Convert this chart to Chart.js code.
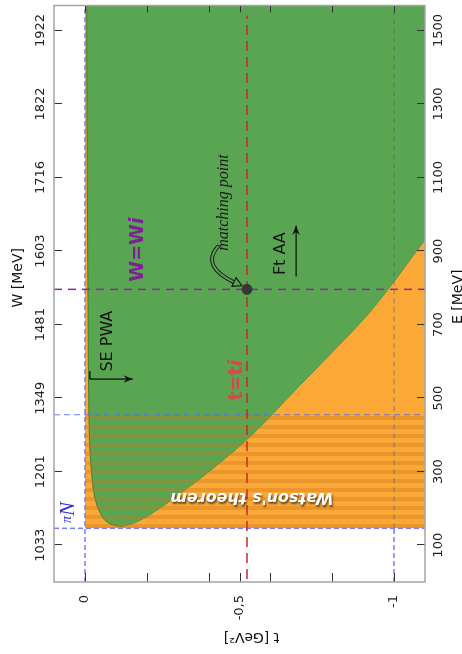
<!DOCTYPE html>
<html>
<head>
<meta charset="utf-8">
<script src="https://cdn.jsdelivr.net/npm/chart.js@4.4.1/dist/chart.umd.min.js"></script>
<style>
  html, body { margin: 0; padding: 0; background: #fff; overflow: hidden; }
  #wrap { position: relative; width: 462px; height: 654px; }
  /* the figure is drawn landscape and turned a quarter turn to the left */
  #chart { position: absolute; left: 0; top: 0; transform-origin: 0 0; transform: translate(0, 654px) rotate(-90deg); }
</style>
</head>
<body>
<div id="wrap"><canvas id="chart" width="654" height="462"></canvas></div>
<script>
// axes
const eTicks = [100, 300, 500, 700, 900, 1100, 1300, 1500];
const wLabels = ['1033', '1201', '1349', '1481', '1603', '1716', '1822', '1922'];
const tTicks = [0, -0.2, -0.4, -0.5, -0.6, -0.8, -1];
const tLabelValues = [0, -0.5, -1];
const tLabelText = ['0', '-0,5', '-1'];
const eRange = [0, 1568];
const tRange = [-1.1, 0.1];

// boundary of the physical region (E in MeV, t in GeV^2)
const upperE = [151, 154, 162, 189, 230, 284, 365, 457, 763, 1500, 1568];
const upperT = [-0.120, -0.097, -0.074, -0.049, -0.032, -0.023, -0.016, -0.013, -0.010, -0.006, -0.006];
const lowerE = [151, 157, 168, 187, 211, 241, 281, 325, 371, 422, 536, 628, 726, 807, 931, 1200, 1568];
const lowerT = [-0.120, -0.146, -0.178, -0.217, -0.259, -0.307, -0.372, -0.437, -0.502, -0.566, -0.696, -0.803, -0.913, -0.990, -1.100, -1.36, -1.70];

// special lines
const eThreshold = 146;   // pi N threshold
const eWatson = 455;      // upper end of Watson's theorem band
const eMatch = 796;       // W = W_i
const tMatch = -0.524;    // t = t_i
const redLineE = [8, 1540];

const ORANGE = '#fca836';
const GREEN = '#5aa552';

const canvas = document.getElementById('chart');
const ctx0 = canvas.getContext('2d');

const stripe = document.createElement('canvas');
stripe.width = 9; stripe.height = 2;
const sctx = stripe.getContext('2d');
sctx.fillStyle = 'rgba(200,118,30,0.36)';
sctx.fillRect(0, 0, 4, 2);
const stripePattern = ctx0.createPattern(stripe, 'repeat');

const pts = (xs, ys) => xs.map((x, i) => ({x: x, y: ys[i]}));

function vLine(e, color, dash, width, order, t0, t1) {
  return {data: [{x: e, y: t0 ?? tRange[1]}, {x: e, y: t1 ?? tRange[0]}],
    borderColor: color, borderDash: dash, borderWidth: width, fill: false, order: order};
}
function hLine(t, color, dash, width, order, e0, e1) {
  return {data: [{x: e0 ?? eRange[0], y: t}, {x: e1 ?? eRange[1], y: t}],
    borderColor: color, borderDash: dash, borderWidth: width, fill: false, order: order};
}

function arrow(ctx, x1, y1, x2, y2, head) {
  ctx.beginPath(); ctx.moveTo(x1, y1); ctx.lineTo(x2, y2); ctx.stroke();
  const a = Math.atan2(y2 - y1, x2 - x1);
  ctx.beginPath();
  ctx.moveTo(x2, y2);
  ctx.lineTo(x2 - head * Math.cos(a - 0.38), y2 - head * Math.sin(a - 0.38));
  ctx.lineTo(x2 - head * 0.6 * Math.cos(a), y2 - head * 0.6 * Math.sin(a));
  ctx.lineTo(x2 - head * Math.cos(a + 0.38), y2 - head * Math.sin(a + 0.38));
  ctx.closePath(); ctx.fill();
}

const notes = {
  id: 'notes',
  afterDatasetsDraw(chart) {
    const {ctx, chartArea: a, scales} = chart;
    const X = e => scales.x.getPixelForValue(e);
    const Y = t => scales.y.getPixelForValue(t);
    ctx.save();

    // inward tick marks
    ctx.strokeStyle = '#333'; ctx.lineWidth = 1;
    ctx.beginPath();
    eTicks.forEach(e => {
      const x = Math.round(X(e)) + 0.5;
      ctx.moveTo(x, a.top); ctx.lineTo(x, a.top + 8);
      ctx.moveTo(x, a.bottom); ctx.lineTo(x, a.bottom - 8);
    });
    tTicks.forEach(t => {
      const y = Math.round(Y(t)) + 0.5;
      ctx.moveTo(a.left, y); ctx.lineTo(a.left + 9, y);
      ctx.moveTo(a.right, y); ctx.lineTo(a.right - 7, y);
    });
    ctx.stroke();

    // frame
    ctx.strokeStyle = '#a5a5a5'; ctx.lineWidth = 1.5;
    ctx.strokeRect(a.left, a.top, a.right - a.left, a.bottom - a.top);

    ctx.textAlign = 'center'; ctx.textBaseline = 'middle';

    // SE PWA
    ctx.fillStyle = '#111'; ctx.strokeStyle = '#111'; ctx.lineWidth = 1.3;
    ctx.font = '16px "DejaVu Sans"';
    ctx.fillText('SE PWA', X(655), Y(-0.074));
    arrow(ctx, X(552), Y(-0.016), X(552), Y(-0.155), 10);
    ctx.beginPath(); ctx.moveTo(X(552), Y(-0.016)); ctx.lineTo(X(574), Y(-0.016)); ctx.stroke();

    // Ft AA
    ctx.fillText('Ft AA', X(893), Y(-0.634));
    arrow(ctx, X(831), Y(-0.683), X(969), Y(-0.683), 10);

    // W = W_i
    ctx.fillStyle = '#7d2196';
    ctx.font = 'bold 19px "DejaVu Sans"';
    let w1 = ctx.measureText('W=W').width;
    ctx.font = 'bold italic 19px "DejaVu Sans"';
    let w2 = ctx.measureText('i').width;
    let x0 = X(904) - (w1 + w2) / 2;
    ctx.textAlign = 'left';
    ctx.font = 'bold 19px "DejaVu Sans"';
    ctx.fillText('W=W', x0, Y(-0.172));
    ctx.font = 'bold italic 19px "DejaVu Sans"';
    ctx.fillText('i', x0 + w1, Y(-0.172));

    // t = t_i
    ctx.fillStyle = '#d9474a';
    ctx.font = 'bold 19px "DejaVu Sans"';
    w1 = ctx.measureText('t=t').width;
    ctx.font = 'bold italic 19px "DejaVu Sans"';
    w2 = ctx.measureText('i').width;
    x0 = X(549) - (w1 + w2) / 2;
    ctx.font = 'bold 19px "DejaVu Sans"';
    ctx.fillText('t=t', x0, Y(-0.492));
    ctx.font = 'bold italic 19px "DejaVu Sans"';
    ctx.fillText('i', x0 + w1, Y(-0.492));

    // matching point label and its curved arrow
    ctx.textAlign = 'center';
    ctx.fillStyle = '#1a1a1a';
    ctx.font = 'italic 16px "Liberation Serif"';
    ctx.fillText('matching point', X(1032), Y(-0.450));
    const sx = X(912), sy = Y(-0.430), cx = X(858), cy = Y(-0.372), ex = X(812), ey = Y(-0.490);
    ctx.lineCap = 'round';
    ctx.strokeStyle = '#1a1a1a'; ctx.lineWidth = 4;
    ctx.beginPath(); ctx.moveTo(sx, sy); ctx.quadraticCurveTo(cx, cy, ex, ey); ctx.stroke();
    ctx.strokeStyle = GREEN; ctx.lineWidth = 2;
    ctx.beginPath(); ctx.moveTo(sx, sy); ctx.quadraticCurveTo(cx, cy, ex, ey); ctx.stroke();
    const ang = Math.atan2(ey - cy, ex - cx);
    const tx = X(806), ty = Y(-0.508);
    ctx.beginPath();
    ctx.moveTo(tx, ty);
    ctx.lineTo(tx - 10 * Math.cos(ang - 0.5), ty - 10 * Math.sin(ang - 0.5));
    ctx.lineTo(tx - 10 * Math.cos(ang + 0.5), ty - 10 * Math.sin(ang + 0.5));
    ctx.closePath();
    ctx.fillStyle = GREEN; ctx.fill();
    ctx.strokeStyle = '#1a1a1a'; ctx.lineWidth = 1.2; ctx.stroke();

    // pi N
    ctx.fillStyle = '#2b2bd9';
    ctx.textAlign = 'left'; ctx.textBaseline = 'alphabetic';
    ctx.font = 'italic 14px "Liberation Serif"';
    w1 = ctx.measureText('\u03c0').width;
    ctx.font = 'italic 21px "Liberation Serif"';
    w2 = ctx.measureText('N').width;
    x0 = X(189) - (w1 + w2) / 2;
    ctx.font = 'italic 14px "Liberation Serif"';
    ctx.fillText('\u03c0', x0, Y(0.058) + 4);
    ctx.font = 'italic 21px "Liberation Serif"';
    ctx.fillText('N', x0 + w1, Y(0.058) + 7);

    // Watson's theorem
    ctx.save();
    ctx.translate(X(230), Y(-0.540));
    ctx.rotate(-Math.PI / 2);
    ctx.textAlign = 'center'; ctx.textBaseline = 'middle';
    ctx.font = 'bold italic 16px "DejaVu Sans"';
    ctx.shadowColor = 'rgba(40,30,10,0.75)';
    ctx.shadowBlur = 2; ctx.shadowOffsetX = -2; ctx.shadowOffsetY = 1;
    ctx.fillStyle = '#ffffff';
    ctx.fillText("Watson's theorem", 0, 0);
    ctx.restore();

    ctx.restore();
  },
  afterDraw(chart) {
    const {ctx, chartArea: a} = chart;
    const mid = (a.left + a.right) / 2;
    ctx.save();
    ctx.fillStyle = '#111';
    ctx.font = '14px "DejaVu Sans"';
    ctx.textAlign = 'center'; ctx.textBaseline = 'middle';
    ctx.fillText('W [MeV]', mid + 16, 18);
    ctx.fillText('E [MeV]', mid - 3, 458);
    ctx.translate(17, (a.top + a.bottom) / 2 + 12);
    ctx.rotate(-Math.PI / 2);
    ctx.fillText('t [GeV\u00b2]', 0, 0);
    ctx.restore();
  }
};

const tickFont = {family: 'DejaVu Sans', size: 13};

new Chart(ctx0, {
  type: 'line',
  data: {
    datasets: [
      {data: [{x: eMatch, y: tMatch}], showLine: false, pointRadius: 5.5,
        pointBackgroundColor: 'rgba(45,45,45,0.88)', pointBorderWidth: 0, order: 0},
      vLine(eMatch, '#8a2d9c', [8, 6], 1.5, 1),
      hLine(tMatch, '#c8282c', [10, 6], 1.5, 1, redLineE[0], redLineE[1]),
      vLine(eThreshold, '#7b7bff', [5, 3], 1.5, 1),
      vLine(eWatson, 'rgba(90,110,225,0.75)', [6, 4], 1.2, 1),
      hLine(0, '#7b7bff', [5, 3], 1.5, 1),
      hLine(-1, '#7b7bff', [5, 3], 1.5, 1, eRange[0], eThreshold),
      hLine(-1, 'rgba(50,90,140,0.55)', [5, 4], 1, 1, eThreshold, eRange[1]),
      {data: [{x: eThreshold, y: 0}, {x: eWatson, y: 0}], fill: 'start',
        backgroundColor: stripePattern, borderWidth: 0, order: 7},
      {data: pts(upperE, upperT), fill: '+1', backgroundColor: GREEN,
        borderColor: '#3f7f3a', borderWidth: 1, cubicInterpolationMode: 'monotone', order: 8},
      {data: pts(lowerE, lowerT), fill: false,
        borderColor: '#3f7f3a', borderWidth: 1, cubicInterpolationMode: 'monotone', order: 8},
      {data: [{x: eThreshold, y: 0}, {x: eRange[1], y: 0}], fill: 'start',
        backgroundColor: ORANGE, borderWidth: 0, order: 9}
    ]
  },
  options: {
    responsive: false,
    animation: false,
    devicePixelRatio: 1,
    layout: {padding: {top: 0, right: 3, bottom: 0, left: 0}},
    elements: {point: {radius: 0}},
    plugins: {legend: {display: false}, tooltip: {enabled: false}},
    scales: {
      x: {
        type: 'linear', position: 'bottom', min: eRange[0], max: eRange[1],
        afterBuildTicks: s => { s.ticks = eTicks.map(v => ({value: v})); },
        afterFit: s => { s.height = 37; },
        grid: {display: false, drawTicks: false},
        border: {display: false},
        ticks: {autoSkip: false, maxRotation: 0, padding: 6, color: '#222', font: tickFont,
          callback: v => String(v)}
      },
      x2: {
        type: 'linear', position: 'top', min: eRange[0], max: eRange[1],
        afterBuildTicks: s => { s.ticks = eTicks.map(v => ({value: v})); },
        afterFit: s => { s.height = 54; },
        grid: {display: false, drawTicks: false},
        border: {display: false},
        ticks: {autoSkip: false, maxRotation: 0, padding: 6, color: '#222', font: tickFont,
          callback: v => wLabels[eTicks.indexOf(v)]}
      },
      y: {
        type: 'linear', position: 'left', min: tRange[0], max: tRange[1],
        afterBuildTicks: s => { s.ticks = tTicks.map(v => ({value: v})); },
        afterFit: s => { s.width = 72; },
        grid: {display: false, drawTicks: false},
        border: {display: false},
        ticks: {autoSkip: false, padding: 13, color: '#222', font: tickFont,
          callback: v => {
            const i = tLabelValues.indexOf(v);
            return i < 0 ? '' : tLabelText[i];
          }}
      }
    }
  },
  plugins: [notes]
});
</script>
</body>
</html>
